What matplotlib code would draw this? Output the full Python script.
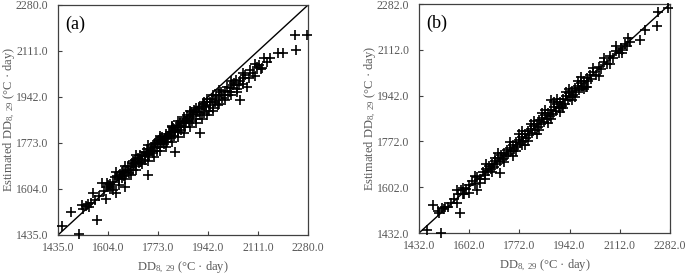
import matplotlib
matplotlib.use('Agg')
import matplotlib.pyplot as plt

plt.rcParams['font.family'] = 'Liberation Serif'
plt.rcParams['mathtext.fontset'] = 'custom'
plt.rcParams['mathtext.rm'] = 'Liberation Serif'
plt.rcParams['mathtext.it'] = 'Liberation Serif:italic'

# panel (a): observed vs estimated DD8,29
x_a = [1450, 1479, 1505, 1515, 1520, 1530, 1535, 1540, 1548, 1554, 1560, 1566, 1575, 1583,
       1590, 1596, 1600, 1605, 1612, 1618, 1622, 1628, 1631, 1636, 1640, 1645, 1650, 1655,
       1658, 1661, 1665, 1670, 1675, 1680, 1684, 1688, 1692, 1696, 1700, 1704, 1708, 1712,
       1716, 1720, 1724, 1728, 1732, 1736, 1740, 1744, 1748, 1752, 1756, 1760, 1764, 1768,
       1772, 1776, 1780, 1784, 1788, 1792, 1796, 1800, 1804, 1808, 1812, 1816, 1820, 1824,
       1828, 1830, 1832, 1836, 1840, 1844, 1848, 1852, 1856, 1860, 1864, 1868, 1872, 1876,
       1880, 1884, 1888, 1892, 1896, 1900, 1905, 1910, 1915, 1915, 1920, 1925, 1930, 1935,
       1940, 1945, 1950, 1955, 1960, 1965, 1970, 1975, 1980, 1990, 2000, 2010, 2020, 2030,
       2040, 2050, 2050, 2060, 2067, 2075, 2085, 2095, 2107, 2115, 2125, 2140, 2150, 2178,
       2194, 2236, 2239, 2275,
       1690, 1710, 1730, 1750, 1770, 1790, 1810, 1830, 1850, 1870, 1890, 1910, 1930, 1950,
       1970, 1985, 1995, 2005, 2015, 2025, 2035, 2045, 1650, 1670, 1600, 1612, 1740, 1760,
       1780, 1800, 1820, 1840, 1860, 1880, 1900,
       1620, 1640, 1660, 1680, 1700, 1720, 1740, 1760, 1780, 1800, 1820, 1840, 1860, 1880,
       1900, 1920, 1940, 1960, 1980, 2000, 2020, 2040, 2060, 2080, 2100, 2120,
       1630, 1660, 1700, 1740, 1780, 1820, 1860, 1900, 1940, 1980, 2020, 2060, 2100, 2130,
       1930, 1960]
y_a = [1469, 1521, 1437, 1545, 1532, 1540, 1548, 1536, 1552, 1590, 1562, 1490, 1578, 1625,
       1596, 1566, 1610, 1618, 1622, 1612, 1630, 1648, 1588, 1652, 1640, 1660, 1643, 1670,
       1650, 1612, 1668, 1690, 1662, 1684, 1700, 1672, 1695, 1712, 1690, 1718, 1698, 1730,
       1704, 1725, 1740, 1712, 1738, 1752, 1655, 1730, 1748, 1760, 1735, 1755, 1772, 1745,
       1768, 1785, 1760, 1778, 1795, 1770, 1788, 1805, 1776, 1798, 1815, 1790, 1812, 1828,
       1800, 1741, 1822, 1840, 1815, 1832, 1848, 1820, 1845, 1862, 1830, 1855, 1875, 1845,
       1868, 1885, 1852, 1876, 1895, 1860, 1885, 1905, 1811, 1875, 1898, 1915, 1882, 1905,
       1922, 1890, 1912, 1935, 1900, 1925, 1945, 1912, 1950, 1940, 1965, 1948, 1975, 1992,
       1970, 1931, 2000, 2012, 2023, 1978, 2040, 2030, 2053, 2060, 2048, 2072, 2085, 2103,
       2105, 2170, 2115, 2170,
       1705, 1715, 1725, 1742, 1780, 1782, 1805, 1818, 1835, 1862, 1880, 1888, 1910, 1925,
       1930, 1960, 1948, 1980, 1962, 1985, 2005, 1985, 1665, 1672, 1625, 1605, 1732, 1770,
       1790, 1790, 1830, 1852, 1845, 1892, 1885,
       1600, 1618, 1640, 1655, 1672, 1695, 1708, 1722, 1745, 1760, 1778, 1795, 1810, 1830,
       1845, 1860, 1875, 1890, 1915, 1930, 1948, 1960, 1990, 2010, 2020, 2045,
       1665, 1690, 1728, 1765, 1800, 1835, 1868, 1902, 1935, 1968, 2000, 2030, 2065, 2085,
       1925, 1950]

# panel (b)
x_b = [1458, 1480, 1495, 1500, 1506, 1510, 1515, 1520, 1530, 1540, 1550, 1560, 1565, 1571,
       1575, 1580, 1585, 1590, 1600, 1610, 1620, 1627, 1630, 1640, 1650, 1655, 1660, 1665,
       1670, 1675, 1680, 1685, 1690, 1695, 1700, 1706, 1705, 1710, 1715, 1720, 1725, 1730,
       1735, 1740, 1745, 1750, 1755, 1760, 1765, 1770, 1775, 1780, 1780, 1785, 1790, 1795,
       1800, 1805, 1810, 1815, 1820, 1825, 1830, 1835, 1840, 1845, 1850, 1855, 1860, 1865,
       1870, 1875, 1879, 1880, 1885, 1890, 1895, 1900, 1905, 1910, 1915, 1920, 1925, 1930,
       1935, 1940, 1945, 1950, 1955, 1960, 1965, 1970, 1975, 1980, 1985, 1990, 1999, 2000,
       2005, 2010, 2015, 2020, 2030, 2040, 2050, 2060, 2070, 2080, 2090, 2100, 2110, 2115,
       2120, 2130, 2135, 2140, 2145, 2180, 2197, 2237, 2242, 2276,
       1600, 1620, 1640, 1660, 1680, 1700, 1720, 1740, 1760, 1780, 1800, 1820, 1840, 1860,
       1880, 1900, 1920, 1940, 1960, 1980, 2000, 2020, 2040, 2060, 2080, 2100, 2120,
       1750, 1770, 1790, 1810, 1830, 1850, 1870, 1890, 1910, 1930, 1950, 1970, 1990,
       1560, 1580, 1655, 1690]
y_b = [1443, 1537, 1515, 1508, 1432, 1525, 1520, 1530, 1528, 1545, 1560, 1590, 1575, 1506,
       1590, 1600, 1578, 1595, 1612, 1625, 1615, 1592, 1640, 1632, 1658, 1648, 1670, 1662,
       1680, 1668, 1690, 1676, 1698, 1688, 1710, 1654, 1698, 1720, 1708, 1728, 1716, 1740,
       1725, 1748, 1735, 1760, 1745, 1770, 1752, 1778, 1765, 1759, 1790, 1775, 1798, 1785,
       1810, 1795, 1818, 1805, 1830, 1815, 1838, 1825, 1850, 1835, 1858, 1845, 1870, 1855,
       1878, 1865, 1926, 1890, 1872, 1898, 1885, 1910, 1895, 1918, 1905, 1930, 1912, 1940,
       1925, 1950, 1935, 1958, 1945, 1970, 1955, 1978, 1962, 1990, 1972, 1998, 1973, 2008,
       1995, 2020, 2005, 2028, 2020, 2048, 2042, 2068, 2060, 2088, 2082, 2108, 2100, 2120,
       2112, 2135, 2128, 2155, 2140, 2150, 2187, 2200, 2254, 2269,
       1580, 1645, 1618, 1690, 1660, 1728, 1695, 1770, 1735, 1810, 1775, 1848, 1815, 1890,
       1855, 1930, 1895, 1965, 1935, 2010, 1975, 2045, 2015, 2080, 2060, 2125, 2100,
       1718, 1800, 1760, 1838, 1800, 1878, 1842, 1918, 1880, 1955, 1925, 1995, 1965,
       1545, 1575, 1632, 1712]

ticks_a = [1435.0, 1604.0, 1773.0, 1942.0, 2111.0, 2280.0]
ticks_b = [1432.0, 1602.0, 1772.0, 1942.0, 2112.0, 2282.0]

gray = '#595959'
fig = plt.figure(figsize=(6.85, 2.75), dpi=100)
ax1 = fig.add_axes([0.0847, 0.1455, 0.3650, 0.8364])
ax2 = fig.add_axes([0.6117, 0.1527, 0.3664, 0.8327])

for ax, xs, ys, ticks, tag in [(ax1, x_a, y_a, ticks_a, '(a)'), (ax2, x_b, y_b, ticks_b, '(b)')]:
    lo, hi = ticks[0], ticks[-1]
    ax.plot([lo, hi], [lo, hi], color='black', lw=1.0, zorder=2)
    ax.plot(xs, ys, linestyle='none', marker='+', color='black', markersize=7.5,
            markeredgewidth=1.2, clip_on=False, zorder=3)
    ax.set_xlim(lo, hi)
    ax.set_ylim(lo, hi)
    ax.set_xticks(ticks)
    ax.set_yticks(ticks)
    ax.set_xticklabels([f'{t:.1f}' for t in ticks])
    ax.set_yticklabels([f'{t:.1f}' for t in ticks])
    ax.tick_params(direction='in', length=3, width=0.8, colors='#404040',
                   labelcolor=gray, labelsize=8.5)
    ax.tick_params(axis='x', pad=5)
    ax.tick_params(axis='y', pad=7)
    for s in ax.spines.values():
        s.set_color('#404040')
        s.set_linewidth(0.9)
    ax.set_xlabel('DD$_{8,\\ 29}$ (°C · day)', color=gray, fontsize=9, labelpad=4)
    ax.set_ylabel('Estimated DD$_{8,\\ 29}$ (°C · day)', color=gray, fontsize=9)
    ax.yaxis.set_label_coords(-0.165, 0.5)
    ax.text(0.028, 0.915, tag, transform=ax.transAxes, fontsize=13, va='center', ha='left')

fig.savefig('out.png', dpi=100)
